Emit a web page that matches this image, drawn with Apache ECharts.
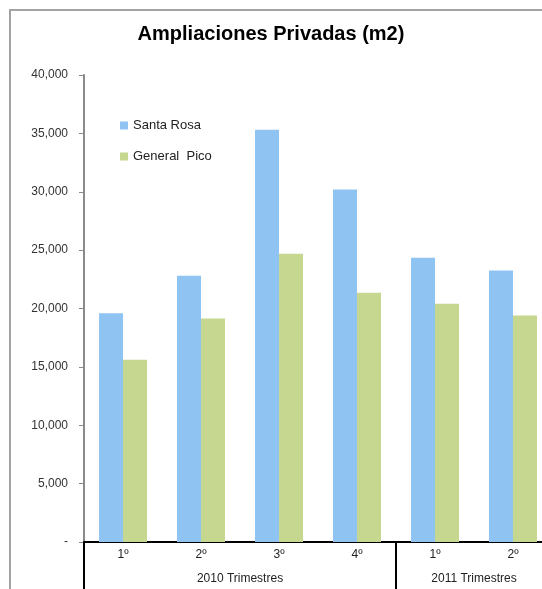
<!DOCTYPE html>
<html>
<head>
<meta charset="utf-8">
<script src="https://cdn.jsdelivr.net/npm/echarts@6/dist/echarts.min.js"></script>
<style>
html,body{margin:0;padding:0;background:#fff;}
#chart{width:542px;height:589px;}
</style>
</head>
<body>
<div id="chart"></div>
<script>
const titleText = 'Ampliaciones Privadas (m2)';
const categories = ['1º', '2º', '3º', '4º', '1º', '2º'];
const groupLabels = ['2010 Trimestres', '2011 Trimestres'];
const groupSizes = [4, 2];
const seriesNames = ['Santa Rosa', 'General  Pico'];
const santaRosa = [19600, 22800, 35300, 30200, 24350, 23250];
const generalPico = [15600, 19150, 24700, 21350, 20400, 19400];
const yTicks = { min: 0, max: 40000, interval: 5000 };

// group boundaries and centres (in category units)
const bounds = [0];
groupSizes.forEach(s => bounds.push(bounds[bounds.length - 1] + s));
const centres = groupSizes.map((s, i) => bounds[i] + s / 2);

const font = 'Liberation Sans, Arial, sans-serif';
const chart = echarts.init(document.getElementById('chart'), null, { renderer: 'canvas' });
chart.setOption({
  animation: false,
  backgroundColor: '#fff',
  title: {
    text: titleText, left: 'center', top: 24, padding: 0,
    textStyle: { fontFamily: font, fontSize: 20, fontWeight: 'bold', color: '#000' }
  },
  graphic: [{
    type: 'rect', z: -10, silent: true,
    shape: { x: 10, y: 10, width: 800, height: 800 },
    style: { fill: 'none', stroke: '#a3a3a3', lineWidth: 2 }
  }],
  legend: {
    orient: 'vertical', left: 115, top: 114, itemWidth: 8, itemHeight: 8, itemGap: 18,
    icon: 'rect',
    textStyle: { fontFamily: font, fontSize: 13, color: '#222' },
    data: seriesNames
  },
  grid: { left: 84, top: 75, bottom: 47, right: -10, containLabel: false, outerBoundsMode: 'none' },
  xAxis: [{
    type: 'category', data: categories, position: 'bottom',
    axisLine: { show: true, lineStyle: { color: '#000', width: 2 } },
    axisTick: { show: false },
    axisLabel: { fontFamily: font, fontSize: 12, color: '#222', margin: 7 },
    splitLine: { show: false }
  }, {
    type: 'value', min: 0, max: categories.length, position: 'bottom',
    axisLine: { show: false },
    axisTick: { show: true, customValues: bounds, length: 50, lineStyle: { color: '#000', width: 2 } },
    axisLabel: {
      customValues: centres, fontFamily: font, fontSize: 12, color: '#222', margin: 31,
      formatter: v => { const i = centres.indexOf(v); return i >= 0 ? groupLabels[i] : ''; }
    },
    splitLine: { show: false }
  }],
  yAxis: {
    type: 'value', min: yTicks.min, max: yTicks.max, interval: yTicks.interval,
    axisLine: { show: true, lineStyle: { color: '#8a8a8a', width: 2 } },
    axisTick: { show: true, length: 5, lineStyle: { color: '#8a8a8a', width: 1 } },
    axisLabel: {
      fontFamily: font, fontSize: 12, color: '#333', margin: 16,
      formatter: v => v === 0 ? '-' : v.toLocaleString('en-US')
    },
    splitLine: { show: false }
  },
  series: [{
    name: seriesNames[0], type: 'bar', data: santaRosa, barWidth: 24, barGap: '0%',
    itemStyle: { color: '#8fc3f1' }
  }, {
    name: seriesNames[1], type: 'bar', data: generalPico, barWidth: 24, barGap: '0%',
    itemStyle: { color: '#c6d78f' }
  }]
});
</script>
</body>
</html>
